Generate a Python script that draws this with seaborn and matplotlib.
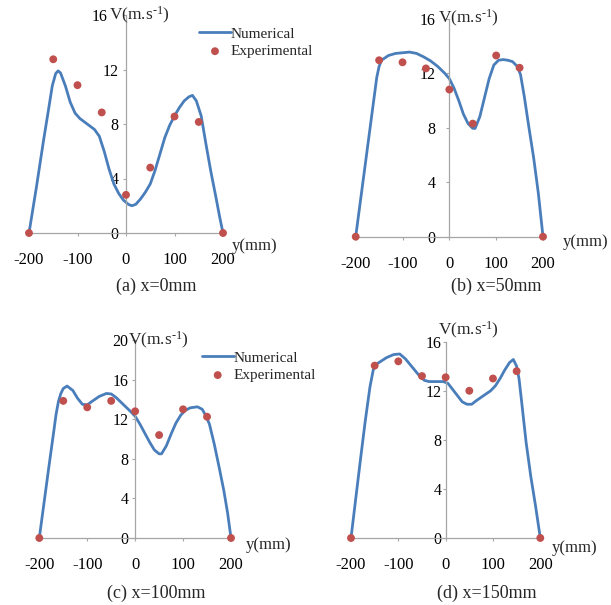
import numpy as np
import pandas as pd
import matplotlib
matplotlib.use("Agg")
import matplotlib.pyplot as plt
from matplotlib.transforms import ScaledTranslation
import seaborn as sns

sns.set_theme(style="white")
plt.rcParams['font.family'] = ['Liberation Serif', 'DejaVu Serif']
plt.rcParams['mathtext.fontset'] = 'custom'
plt.rcParams['mathtext.rm'] = 'Liberation Serif'
plt.rcParams['mathtext.default'] = 'regular'
plt.rcParams['axes.unicode_minus'] = False

# measurement positions (mm) and experimental velocities
y_exp = [-200, -150, -100, -50, 0, 50, 100, 150, 200]
v_exp_a = [0, 12.75, 10.85, 8.85, 2.8, 4.8, 8.55, 8.15, 0]
v_exp_b = [0, 12.95, 12.8, 12.35, 10.8, 8.3, 13.3, 12.4, 0]
v_exp_c = [0, 13.85, 13.2, 13.85, 12.8, 10.4, 13.0, 12.25, 0]
v_exp_d = [0, 14.05, 14.4, 13.2, 13.1, 12.0, 13.0, 13.6, 0]

# numerical profiles
y_num_a = [-200, -185, -170, -160, -152, -145, -140, -135, -125, -115, -105, -95, -80, -65, -55, -45,
           -35, -25, -15, -5, 5, 12, 20, 30, 40, 50, 60, 70, 80, 90, 100, 110, 120, 130, 137, 145,
           155, 165, 175, 185, 193, 200]
v_num_a = [0, 3.3, 6.8, 9.0, 10.8, 11.7, 11.9, 11.75, 10.8, 9.6, 8.8, 8.4, 8.0, 7.6, 7.1, 6.0,
           4.7, 3.6, 2.9, 2.4, 2.1, 2.0, 2.1, 2.5, 3.0, 3.6, 4.6, 5.8, 7.0, 7.9, 8.6, 9.2, 9.7, 10.0, 10.1, 9.7,
           8.6, 6.5, 4.5, 2.7, 1.2, 0]

y_num_b = [-200, -190, -180, -170, -160, -155, -150, -145, -130, -115, -100, -85, -70, -55, -40, -25,
           -10, 0, 10, 20, 30, 40, 50, 55, 65, 75, 85, 95, 105, 115, 125, 135, 145, 152, 160, 170,
           180, 190, 200]
v_num_b = [0, 2.6, 5.2, 7.8, 10.4, 11.7, 12.5, 12.95, 13.3, 13.45, 13.5, 13.55, 13.45, 13.2, 12.9, 12.5,
           12.0, 11.6, 10.9, 10.0, 9.0, 8.3, 7.95, 7.95, 8.8, 10.2, 11.6, 12.6, 12.95, 13.0, 12.95, 12.85, 12.5,
           11.9, 10.3, 8.0, 5.8, 3.2, 0]

y_num_c = [-200, -190, -180, -170, -165, -160, -155, -150, -142, -130, -120, -110, -100, -90, -75, -60,
           -50, -40, -25, -10, 0, 10, 20, 30, 40, 50, 55, 65, 75, 85, 95, 105, 115, 130, 140, 148,
           155, 165, 175, 185, 193, 200]
v_num_c = [0, 3.6, 7.2, 10.7, 12.5, 13.8, 14.6, 15.1, 15.35, 14.9, 14.1, 13.5, 13.45, 13.8, 14.3, 14.6,
           14.55, 14.2, 13.5, 12.8, 12.3, 11.5, 10.6, 9.7, 8.9, 8.5, 8.5, 9.3, 10.5, 11.6, 12.4, 12.9, 13.15,
           13.25, 13.0, 12.3, 11.5, 9.5, 7.2, 4.8, 2.5, 0]

y_num_d = [-200, -190, -180, -170, -160, -153, -145, -125, -110, -97, -85, -70, -55, -45, -35, -20,
           -5, 5, 15, 25, 35, 45, 55, 65, 80, 95, 105, 115, 125, 135, 143, 150, 155, 160, 170, 180,
           190, 200]
v_num_d = [0, 3.2, 6.4, 9.5, 12.3, 13.7, 14.2, 14.7, 14.95, 15.0, 14.6, 13.9, 13.2, 12.85, 12.75, 12.75,
           12.75, 12.6, 12.1, 11.6, 11.1, 10.9, 10.9, 11.2, 11.6, 12.0, 12.4, 13.0, 13.7, 14.3, 14.55, 14.0,
           13.0, 11.3, 7.8, 5.0, 2.6, 0]

x_ticks = [-200, -100, 0, 100, 200]
x_labels = ['-200', '-100', '0', '100', '200']
captions = ['(a) x=0mm', '(b) x=50mm', '(c) x=100mm', '(d) x=150mm']

W, H = 611, 605
fig = plt.figure(figsize=(W / 100, H / 100), dpi=100)

line_col = '#4a7ebb'
dot_col = '#c0504d'
axis_col = '#a6a6a6'

# panel boxes in pixels: left, right, top, bottom
boxes = [(29, 223, 15, 233), (355.7, 543, 18.7, 236.7),
         (39.3, 231, 340, 538), (351, 540.3, 341.7, 538)]
ymaxes = [16, 16, 20, 16]
pads = [3.1, 7.7, 2.6, 0.7]
vlab = [(-35, 0), (-24, 0), (-15, 0), (-16, 8)]
ylab = [(6, -9), (14, -4), (11, -5), (8, -7)]
cap_pos = [(156.7, 286.7), (496.7, 286.7), (156.7, 593), (486.7, 593)]

panels = [(y_num_a, v_num_a, v_exp_a), (y_num_b, v_num_b, v_exp_b),
          (y_num_c, v_num_c, v_exp_c), (y_num_d, v_num_d, v_exp_d)]

for i, (yn, vn, ve) in enumerate(panels):
    l, r, t, b = boxes[i]
    ax = fig.add_axes([l / W, 1 - b / H, (r - l) / W, (b - t) / H])
    show_leg = i in (0, 2)
    num = pd.DataFrame({'y': yn, 'V': vn})
    exp = pd.DataFrame({'y': y_exp, 'V': ve})
    sns.lineplot(data=num, x='y', y='V', ax=ax, color=line_col, lw=2.0,
                 label='Numerical' if show_leg else None, legend=show_leg, clip_on=False)
    sns.scatterplot(data=exp, x='y', y='V', ax=ax, color=dot_col, s=32, edgecolor='none',
                    label='Experimental' if show_leg else None, legend=show_leg, clip_on=False, zorder=3)
    ax.set_xlim(-200, 200)
    ax.set_ylim(0, ymaxes[i])
    yt = list(range(0, ymaxes[i] + 1, 4))
    ax.set_yticks(yt, labels=[str(v) for v in yt])
    ax.set_xticks(x_ticks, labels=x_labels)
    ax.set_xlabel('')
    ax.set_ylabel('')
    ax.set_facecolor('none')
    for s in ['top', 'right']:
        ax.spines[s].set_visible(False)
    ax.spines['left'].set_position(('data', 0))
    for s in ['left', 'bottom']:
        ax.spines[s].set_color(axis_col)
        ax.spines[s].set_linewidth(0.9)
    ax.tick_params(axis='y', direction='out', length=2.2, width=0.8, color=axis_col,
                   pad=pads[i], labelsize=11.5, labelcolor='black', left=True)
    ax.tick_params(axis='x', direction='out', length=2.2, width=0.8, color=axis_col,
                   pad=11.5, labelsize=12, labelcolor='black', bottom=True)
    if i == 0:
        top = ax.get_yticklabels()[-1]
        top.set_transform(top.get_transform() + ScaledTranslation(-11 / 100, 0, fig.dpi_scale_trans))
    ax.annotate(r'V(m.s$^{\text{-1}}$)', xy=(vlab[i][0], ymaxes[i]), xycoords='data',
                xytext=(0, vlab[i][1]), textcoords='offset points',
                ha='left', va='center', fontsize=12.5, annotation_clip=False)
    ax.annotate('y(mm)', xy=(200, 0), xycoords='data', xytext=ylab[i], textcoords='offset points',
                ha='left', va='center', fontsize=12, annotation_clip=False)
    if show_leg:
        anchor = (0.876, 0.945) if i == 0 else (0.847, 0.945)
        ax.legend(loc='upper left', bbox_to_anchor=anchor, frameon=False, fontsize=11,
                  handlelength=2.1, handletextpad=0.0, borderaxespad=0, borderpad=0,
                  labelspacing=0.25)
    cx, cy = cap_pos[i]
    fig.text(cx / W, 1 - cy / H, captions[i], ha='center', va='center', fontsize=13)

fig.savefig('out.png', dpi=100)
